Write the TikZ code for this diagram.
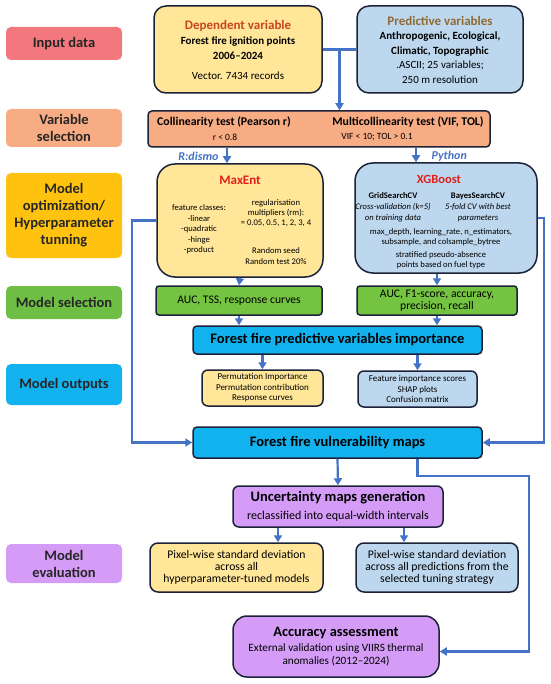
\documentclass[tikz,border=0pt]{standalone}
\usepackage{fontspec}
\setmainfont{Carlito}
\usetikzlibrary{arrows.meta,calc}

\definecolor{navy}{HTML}{1C2238}
\definecolor{flow}{HTML}{4472C4}
\definecolor{labred}{HTML}{F3787E}
\definecolor{laborange}{HTML}{F8AC84}
\definecolor{labgold}{HTML}{FFC20E}
\definecolor{labgreen}{HTML}{6FBF45}
\definecolor{labblue}{HTML}{12B2EE}
\definecolor{labviolet}{HTML}{D49CF6}
\definecolor{boxyellow}{HTML}{FFE699}
\definecolor{boxblue}{HTML}{BDD7EE}
\definecolor{selgreen}{HTML}{74C442}
\definecolor{depred}{HTML}{C8461E}
\definecolor{predbrown}{HTML}{8F6A32}
\definecolor{modred}{HTML}{E0201B}

\tikzset{
  stage/.style={rounded corners=5pt, minimum width=116, inner sep=0pt, align=center,
    text=black!85, font=\bfseries\fontsize{14.5}{17}\selectfont},
  box/.style={draw=navy, line width=1.5pt, rounded corners=8pt, inner sep=0pt, align=center},
  small/.style={inner sep=0pt, align=center, font=\fontsize{8.6}{10.4}\selectfont},
  link/.style={draw=flow, line width=2.2pt},
  arr/.style={link, -{Triangle[length=7pt,width=8pt]}},
  tool/.style={text=flow, font=\bfseries\itshape\fontsize{12}{14}\selectfont},
}

\begin{document}
\begin{tikzpicture}[x=1pt, y=-1pt]
\useasboundingbox (0,0) rectangle (550,684);

% Stage labels on the left
\foreach \n/\y/\h/\c/\t in {
  lin/43.5/33/labred/{Input data},
  lvs/128/38/laborange/{Variable\\selection},
  lmo/215.5/85/labgold/{Model\\optimization/\\Hyperparameter\\tunning},
  lms/302.5/33/labgreen/{Model selection},
  lout/384.5/41/labblue/{Model outputs},
  lev/563.5/39/labviolet/{Model\\evaluation}} {
  \node[stage, fill=\c, minimum height=\h] (\n) at (64,\y) {\t};
}

% Input data
\node[box, rounded corners=12pt, fill=boxyellow, minimum width=168, minimum height=87,
  font=\fontsize{11}{15}\selectfont] (dep) at (238,49.5)
  {{\color{depred}\bfseries\fontsize{13}{15}\selectfont Dependent variable}\\
   {\bfseries Forest fire ignition points}\\
   {\bfseries 2006–2024}\\[5pt]
   Vector. 7434 records};
\node[box, rounded corners=12pt, fill=boxblue, minimum width=166, minimum height=87,
  font=\fontsize{11}{14.5}\selectfont] (pred) at (440,49.5)
  {{\color{predbrown}\bfseries\fontsize{13}{15}\selectfont Predictive variables}\\
   {\bfseries Anthropogenic, Ecological,}\\
   {\bfseries Climatic, Topographic}\\
   .ASCII; 25 variables;\\
   250 m resolution};

% Variable selection
\node[box, rounded corners=4pt, fill=laborange, minimum width=342, minimum height=36] (col) at (319,129) {};
\node[font=\bfseries\fontsize{11.8}{13}\selectfont, inner sep=0pt] (pear) at (224,122.5) {Collinearity test (Pearson r)};
\node[font=\fontsize{9.5}{11}\selectfont, inner sep=0pt] (pearv) at (225,137) {r < 0.8};
\node[font=\bfseries\fontsize{11.8}{13}\selectfont, inner sep=0pt] (vif) at (408,122.5) {Multicollinearity test (VIF, TOL)};
\node[font=\fontsize{9.5}{11}\selectfont, inner sep=0pt] (vifv) at (377,137) {VIF < 10; TOL > 0.1};

% Model optimization
\node[box, rounded corners=18pt, fill=boxyellow, minimum width=166, minimum height=113] (maxent) at (240,220.5) {};
\node[font=\bfseries\fontsize{13}{15}\selectfont, text=modred, inner sep=0pt] (mxname) at (240,180) {MaxEnt};
\node[small] (mxfeat) at (199,229.5) {feature classes:\\-linear\\-quadratic\\-hinge\\-product};
\node[small] (mxreg) at (276,213) {regularisation\\multipliers (rm):\\= 0.05, 0.5, 1, 2, 3, 4};
\node[small] (mxseed) at (276,256) {Random seed\\Random test 20\%};

\node[box, rounded corners=18pt, fill=boxblue, minimum width=182, minimum height=110] (xgb) at (446,218) {};
\node[font=\bfseries\fontsize{12.5}{15}\selectfont, text=modred, inner sep=0pt] (xgname) at (439,179) {XGBoost};
\node[small, font=\fontsize{8.6}{11}\selectfont] (grid) at (393,207)
  {\textbf{GridSearchCV}\\\textit{Cross-validation (k=5)}\\\textit{on training data}};
\node[small, font=\fontsize{8.6}{11}\selectfont] (bayes) at (478,207)
  {\textbf{BayesSearchCV}\\\textit{5-fold CV with best}\\\textit{parameters}};
\node[small] (xgpar) at (441,237) {max\_depth, learning\_rate, n\_estimators,\\subsample, and colsample\_bytree};
\node[small] (xgpa) at (441,260) {stratified pseudo-absence\\points based on fuel type};

% Model selection
\node[box, rounded corners=3pt, fill=selgreen, minimum width=166, minimum height=29,
  font=\fontsize{11.6}{12}\selectfont] (aucL) at (239,300.5) {AUC, TSS, response curves};
\node[box, rounded corners=3pt, fill=selgreen, minimum width=160, minimum height=29,
  font=\fontsize{11.6}{12}\selectfont] (aucR) at (437,300.5) {AUC, F1-score, accuracy,\\precision, recall};

% Model outputs
\node[box, rounded corners=4pt, fill=labblue, minimum width=289, minimum height=28,
  font=\bfseries\fontsize{14.5}{15}\selectfont] (imp) at (337.5,340) {Forest fire predictive variables importance};
\node[box, rounded corners=6pt, fill=boxyellow, minimum width=121, minimum height=36,
  font=\fontsize{9}{10.5}\selectfont] (outL) at (262.5,388) {Permutation Importance\\Permutation contribution\\Response curves};
\node[box, rounded corners=6pt, fill=boxblue, minimum width=119, minimum height=36,
  font=\fontsize{9}{10.5}\selectfont] (outR) at (417.5,389) {Feature importance scores\\SHAP plots\\Confusion matrix};
\node[box, rounded corners=4pt, fill=labblue, minimum width=289, minimum height=31,
  font=\bfseries\fontsize{14.5}{15}\selectfont] (vul) at (337.5,442.5) {Forest fire vulnerability maps};

% Model evaluation
\node[box, rounded corners=6pt, fill=labviolet, minimum width=210, minimum height=41,
  font=\fontsize{12}{14}\selectfont] (unc) at (338,506.5)
  {{\bfseries\fontsize{14.5}{16}\selectfont Uncertainty maps generation}\\[4pt]
   reclassified into equal-width intervals};
\node[box, rounded corners=8pt, fill=boxyellow, minimum width=173, minimum height=49,
  font=\fontsize{11.7}{12.3}\selectfont] (pixL) at (236.5,567.5)
  {Pixel-wise standard deviation\\across all\\hyperparameter-tuned models};
\node[box, rounded corners=8pt, fill=boxblue, minimum width=162, minimum height=49,
  font=\fontsize{11.7}{12.3}\selectfont] (pixR) at (437,567.5)
  {Pixel-wise standard deviation\\across all predictions from the\\selected tuning strategy};
\node[box, rounded corners=14pt, fill=labviolet, minimum width=206, minimum height=61,
  font=\fontsize{11.2}{13}\selectfont] (acc) at (336,646.5)
  {{\bfseries\fontsize{14.4}{16}\selectfont Accuracy assessment}\\[2pt]
   External validation using VIIRS thermal\\anomalies (2012–2024)};

% Connectors
\coordinate (split) at ($(dep.east)!0.5!(pred.west)$);
\draw[link] (dep.east) -- (pred.west);
\draw[arr] (split) -- (split |- col.north);

\coordinate (rdismo) at ([xshift=-92]col.south);
\coordinate (python) at ([xshift=97]col.south);
\draw[arr] (rdismo) -- (rdismo |- maxent.north);
\draw[arr] (python) -- (python |- xgb.north);
\node[tool, anchor=east] (rlab) at ([xshift=-5pt]rdismo |- 0,156) {R:dismo};
\node[tool, anchor=west] (plab) at ([xshift=12pt]python |- 0,156) {Python};

\draw[arr] (maxent.south) -- (aucL.north);
\draw[arr] (xgb.south -| aucR.north) -- (aucR.north);
\draw[arr] (aucL.south) -- (aucL.south |- imp.north);
\draw[arr] (aucR.south) -- (aucR.south |- imp.north);
\draw[arr] (imp.south -| outL.north) -- (outL.north);
\draw[arr] (imp.south -| outR.north) -- (outR.north);

\draw[arr] (maxent.west) -- ++(-24,0) |- (vul.west);
\draw[arr] (xgb.east) -- ++(6,0) |- (vul.east);

\draw[arr] (vul.south) -- (unc.north);
\coordinate (bend) at (529,476);
\draw[arr] ([xshift=80pt]vul.south) |- (bend) |- ([yshift=-5pt]acc.east);

\coordinate (ul) at ([xshift=-60pt]unc.south);
\coordinate (ur) at ([xshift=66pt]unc.south);
\draw[arr] (ul) -- (ul |- pixL.north);
\draw[arr] (ur) -- (ur |- pixR.north);

\end{tikzpicture}
\end{document}
